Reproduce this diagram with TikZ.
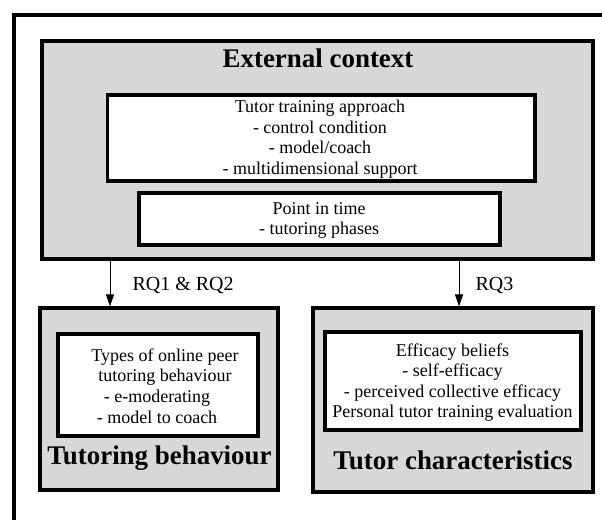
\documentclass[tikz,border=0pt]{standalone}
\usepackage{fontspec}
\setmainfont{Liberation Serif}
\usetikzlibrary{arrows.meta,fit}

\definecolor{ctxgray}{RGB}{216,216,216}

\tikzset{every picture/.style={line width=0.75pt}}
\tikzset{
  framebox/.style={draw, line width=2.4pt},
  greybox/.style={draw, line width=2.4pt, fill=ctxgray, inner sep=0pt},
  whitebox/.style={draw, line width=2.4pt, fill=white, inner sep=0pt},
  itemtext/.style={align=center, inner sep=0.75pt, font=\fontsize{13.5}{15.4}\selectfont},
  headtext/.style={anchor=base, inner sep=0.75pt, font=\fontsize{20.2}{24}\selectfont\bfseries},
  rqtext/.style={anchor=base west, inner sep=0.75pt, font=\fontsize{15}{18}\selectfont},
  rqarrow/.style={-{Triangle[length=9pt,width=6pt]}, line width=0.75pt}
}

\begin{document}
\begin{tikzpicture}[x=0.75pt,y=0.75pt,yscale=-1,xscale=1]
\useasboundingbox (0,0) rectangle (602,520);
\clip (0,0) rectangle (602,520);

%Shape: Rectangle (outer frame, runs off the page)
\draw [framebox] (14,15) rectangle (660,580) ;

%Shape: Rectangle (external context)
\node [greybox, fit={(42,41) (593,259)}] (ext) {};
%Shape: Rectangle (training approach)
\node [whitebox, fit={(107.5,95) (535,181)}] (train) {};
%Shape: Rectangle (point in time)
\node [whitebox, fit={(139,193) (500,245)}] (time) {};

%Shape: Rectangle (tutoring behaviour)
\node [greybox, fit={(40,308) (278,490)}] (behav) {};
%Shape: Rectangle (tutoring behaviour types)
\node [whitebox, fit={(58,334) (258,436)}] (types) {};

%Shape: Rectangle (tutor characteristics)
\node [greybox, fit={(313,308) (593,492)}] (chars) {};
%Shape: Rectangle (efficacy)
\node [whitebox, fit={(325,332) (581,430)}] (effic) {};

%Straight Lines (arrows)
\coordinate (rqleft) at (110,0);
\coordinate (rqright) at (459,0);
\draw [rqarrow] (rqleft |- ext.south) -- (rqleft |- behav.north) ;
\draw [rqarrow] (rqright |- ext.south) -- (rqright |- chars.north) ;

% Text Node
\node [headtext] (exttitle) at (318,68) {External context};
% Text Node
\node [itemtext] (traintext) at (320,139.4) {Tutor training approach\\- control condition\\- model/coach\\- multidimensional support};
% Text Node
\node [itemtext] (timetext) at (319,220.5) {Point in time\\- tutoring phases};
% Text Node
\node [rqtext] (rq12) at (131,290) {RQ1 \& RQ2};
% Text Node
\node [rqtext] (rq3) at (474,290) {RQ3};
% Text Node
\node [itemtext] (typestext) at (157,386) {\hspace*{12pt}Types of online peer\\\hspace*{12pt}tutoring behaviour\\- e-moderating\\- model to coach};
% Text Node
\node [headtext] (behavtitle) at (159.5,464) {Tutoring behaviour};
% Text Node
\node [itemtext] (effictext) at (452.5,382.5) {Efficacy beliefs\\- self-efficacy\\- perceived collective efficacy\\Personal tutor training evaluation};
% Text Node
\node [headtext] (charstitle) at (453,469) {Tutor characteristics};

\end{tikzpicture}
\end{document}
